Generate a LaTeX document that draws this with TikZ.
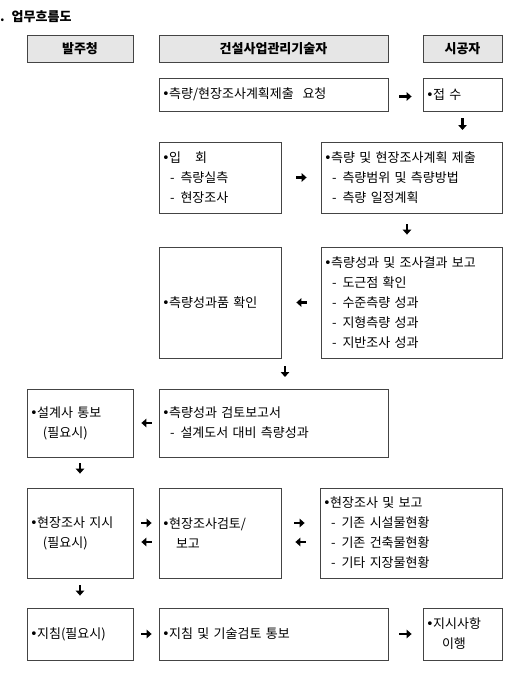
\documentclass[tikz,border=0pt]{standalone}
\usepackage{fontspec}
\setmainfont{Noto Sans CJK KR}[WordSpace=2]
\newfontfamily\dejavu{DejaVu Sans}
\usetikzlibrary{arrows.meta}
\definecolor{hdrfill}{HTML}{E6E6E6}
\definecolor{edge}{HTML}{444444}
\newcommand\dl[1]{\hspace*{8pt}-\hspace{6pt}#1}
\newcommand\ind[2]{\hspace*{#1}#2}
\newcommand\bl{{\dejavu\fontsize{13}{20}\selectfont •}\hspace{-0.5pt}}
\begin{document}
\begin{tikzpicture}[x=1pt,y=-1pt,
  hdr/.style={draw=edge, line width=0.8pt, fill=hdrfill, minimum height=27pt,
    font={\fontsize{13}{14}\selectfont\bfseries}, inner sep=0pt},
  box/.style={draw=edge, line width=0.8pt, inner xsep=3pt, inner ysep=0pt,
    align=left, font={\fontsize{13}{20}\selectfont}},
  arr/.style={line width=2.3pt, -{Triangle[length=5pt,width=8.5pt]}}
]
\useasboundingbox (0,0) rectangle (513,685);
\node[anchor=west, inner sep=0pt, font={\fontsize{13}{14}\selectfont\bfseries}] (title) at (0,17) {. 업무흐름도};

% headers
\node[hdr, minimum width=106pt] (h1) at (80,48.5) {발주청};
\node[hdr, minimum width=229pt] (h2) at (273.5,48.5) {건설사업관리기술자};
\node[hdr, minimum width=79pt] (h3) at (462.5,48.5) {시공자};

% row 1
\node[box, minimum width=229pt, text width=223pt, minimum height=33pt] (r1a) at (273.5,94.5) {\bl{}측량/현장조사계획제출\ \ 요청};
\node[box, minimum width=79pt, text width=73pt, minimum height=33pt] (r1b) at (462.5,94.5) {\bl{}접 수};

% row 2
\node[box, minimum width=122pt, text width=116pt, minimum height=71pt] (r2a) at (220,177.5) {\bl{}입\hspace{14pt}회\\ \dl{측량실측}\\ \dl{현장조사}};
\node[box, minimum width=181pt, text width=175pt, minimum height=71pt] (r2b) at (411.5,177.5) {\bl{}측량 및 현장조사계획 제출\\ \dl{측량범위 및 측량방법}\\ \dl{측량 일정계획}};

% row 3
\node[box, minimum width=122pt, text width=116pt, minimum height=111pt] (r3a) at (220,302.5) {\bl{}측량성과품 확인};
\node[box, minimum width=181pt, text width=175pt, minimum height=111pt] (r3b) at (411.5,302.5) {\bl{}측량성과 및 조사결과 보고\\ \dl{도근점 확인}\\ \dl{수준측량 성과}\\ \dl{지형측량 성과}\\ \dl{지반조사 성과}};

% row 4
\node[box, minimum width=106pt, text width=100pt, minimum height=68pt] (r4a) at (80,423) {\bl{}설계사 통보\\ \ind{13pt}{(필요시)}};
\node[box, minimum width=229pt, text width=223pt, minimum height=68pt] (r4b) at (273.5,423) {\bl{}측량성과 검토보고서\\ \dl{설계도서 대비 측량성과}};

% row 5
\node[box, minimum width=106pt, text width=100pt, minimum height=90pt] (r5a) at (80,533) {\bl{}현장조사 지시\\ \ind{13pt}{(필요시)}};
\node[box, minimum width=122pt, text width=116pt, minimum height=90pt] (r5b) at (220,533) {\bl{}현장조사검토/\\ \ind{14pt}{보고}};
\node[box, minimum width=182pt, text width=176pt, minimum height=90pt] (r5c) at (411,533) {\bl{}현장조사 및 보고\\ \dl{기존 시설물현황}\\ \dl{기존 건축물현황}\\ \dl{기타 지장물현황}};

% row 6
\node[box, minimum width=106pt, text width=100pt, minimum height=52pt] (r6a) at (80,634) {\bl{}지침(필요시)};
\node[box, minimum width=229pt, text width=223pt, minimum height=52pt] (r6b) at (273.5,634) {\bl{}지침 및 기술검토 통보};
\node[box, minimum width=79pt, text width=73pt, minimum height=52pt] (r6c) at (462.5,634) {\bl{}지시사항\\ \ind{16pt}{이행}};

% free ends
\coordinate (c1) at (462.5,142);
\coordinate (c3s) at (285,358);
\coordinate (c3e) at (285,389);

% horizontal arrows
\draw[arr, shorten <=11pt, shorten >=11pt] ([yshift=-2pt]r1a.east) -- ([yshift=-2pt]r1b.west);
\draw[arr, shorten <=15pt, shorten >=14pt] (r2a.east) -- (r2b.west);
\draw[arr, shorten <=14pt, shorten >=15pt] (r3b.west) -- (r3a.east);
\draw[arr, shorten <=7pt, shorten >=8pt] (r4b.west) -- (r4a.east);
\draw[arr, shorten <=8pt, shorten >=7pt] ([yshift=10pt]r5a.east) -- ([yshift=10pt]r5b.west);
\draw[arr, shorten <=7pt, shorten >=8pt] ([yshift=-9pt]r5b.west) -- ([yshift=-9pt]r5a.east);
\draw[arr, shorten <=13pt, shorten >=15pt] ([yshift=10pt]r5b.east) -- ([yshift=10pt]r5c.west);
\draw[arr, shorten <=14pt, shorten >=14pt] ([yshift=-9pt]r5c.west) -- ([yshift=-9pt]r5b.east);
\draw[arr, shorten <=8pt, shorten >=7pt] (r6a.east) -- (r6b.west);
\draw[arr, shorten <=11pt, shorten >=11pt] (r6b.east) -- (r6c.west);

% vertical arrows
\draw[arr, shorten <=7pt, shorten >=12pt] (r1b.south) -- (c1);
\draw[arr, shorten <=11pt, shorten >=12pt] ([xshift=-4.5pt]r2b.south) -- ([xshift=-4.5pt]r3b.north);
\draw[arr, shorten <=8pt, shorten >=12pt] (c3s) -- (c3e);
\draw[arr, shorten <=6pt, shorten >=14pt] (r4a.south) -- (r5a.north);
\draw[arr, shorten <=7pt, shorten >=12pt] (r5a.south) -- (r6a.north);
\end{tikzpicture}
\end{document}
